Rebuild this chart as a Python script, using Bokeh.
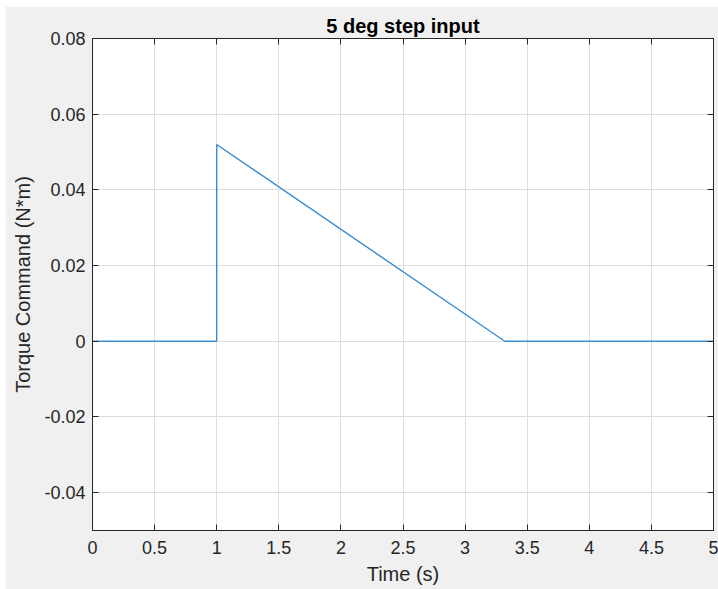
from bokeh.plotting import figure
from bokeh.models import LinearAxis, FixedTicker, Range1d, Spacer
from bokeh.layouts import column, row
from bokeh.embed import file_html
from bokeh.resources import INLINE

# ---- data ----
time_s = [0.0, 1.0, 1.0, 3.32, 5.0]
torque_cmd = [0.0, 0.0, 0.052, 0.0, 0.0]

x_ticks = [0, 0.5, 1, 1.5, 2, 2.5, 3, 3.5, 4, 4.5, 5]
x_tick_labels = ["0", "0.5", "1", "1.5", "2", "2.5", "3", "3.5", "4", "4.5", "5"]
y_ticks = [-0.04, -0.02, 0, 0.02, 0.04, 0.06, 0.08]
y_tick_labels = ["-0.04", "-0.02", "0", "0.02", "0.04", "0.06", "0.08"]

FONT = "Liberation Sans"
AX = "#262626"
BG = "#f0f0f0"

p = figure(
    frame_width=621, frame_height=492,
    min_border_left=87, min_border_right=5, min_border_top=32, min_border_bottom=59,
    x_range=Range1d(0, 5), y_range=Range1d(-0.05, 0.08),
    output_backend="svg", toolbar_location=None,
    title="5 deg step input",
    background_fill_color="white", border_fill_color=BG,
)
p.outline_line_color = AX
p.outline_line_width = 1

p.title.align = "center"
p.title.vertical_align = "top"
p.title.text_font = FONT
p.title.text_font_size = "20px"
p.title.text_font_style = "bold"
p.title.text_color = "#000000"
p.title.standoff = 0

p.line(time_s, torque_cmd, line_color="#3a8dd0", line_width=1.4)

def style_axis(ax, ticks, labels, show_labels=True):
    ax.ticker = FixedTicker(ticks=ticks)
    ax.major_label_overrides = {t: s for t, s in zip(ticks, labels)}
    ax.axis_line_color = AX
    ax.major_tick_line_color = AX
    ax.major_tick_in = 6
    ax.major_tick_out = 0
    ax.minor_tick_in = 0
    ax.minor_tick_out = 0
    ax.major_label_text_font = FONT
    ax.major_label_text_color = AX
    ax.axis_label_text_font = FONT
    ax.axis_label_text_color = AX
    ax.axis_label_text_font_style = "normal"
    ax.axis_label_text_font_size = "20px"
    if show_labels:
        ax.major_label_text_font_size = "18px"
    else:
        ax.major_label_text_font_size = "0px"
        ax.major_label_standoff = 0

xa = p.xaxis[0]
ya = p.yaxis[0]
style_axis(xa, x_ticks, x_tick_labels)
style_axis(ya, y_ticks, y_tick_labels)
xa.axis_label = "Time (s)"
ya.axis_label = "Torque Command (N*m)"
xa.major_label_standoff = 10
ya.major_label_standoff = 7
xa.axis_label_standoff = 6
ya.axis_label_standoff = 7

top_ax = LinearAxis()
right_ax = LinearAxis()
style_axis(top_ax, x_ticks, ["" for _ in x_ticks], show_labels=False)
style_axis(right_ax, y_ticks, ["" for _ in y_ticks], show_labels=False)
p.add_layout(top_ax, "above")
p.add_layout(right_ax, "right")

p.xgrid.ticker = FixedTicker(ticks=x_ticks)
p.ygrid.ticker = FixedTicker(ticks=y_ticks)
p.xgrid.grid_line_color = "#dedede"
p.ygrid.grid_line_color = "#dedede"

layout = column(Spacer(height=6), row(Spacer(width=5), p))

open("out.html", "w").write(file_html(layout, INLINE))
